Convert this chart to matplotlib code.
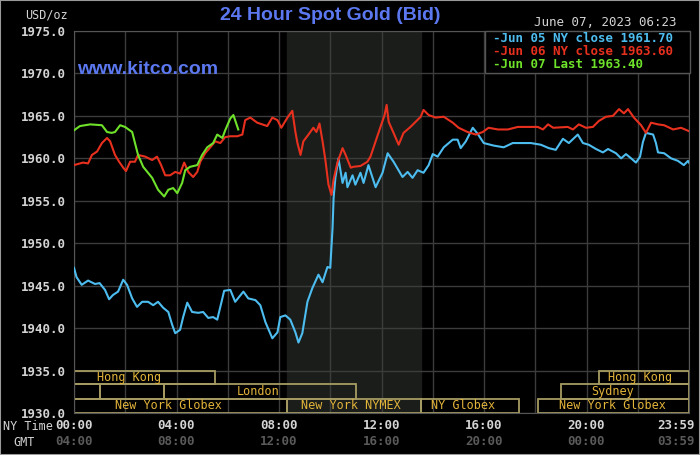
import matplotlib
matplotlib.use('Agg')
import matplotlib.pyplot as plt
from matplotlib.patches import Rectangle

# --- data ---
jun05_h = [0, 0.1, 0.3, 0.55, 0.82, 1.0, 1.21, 1.37, 1.52, 1.72, 1.92, 2.07, 2.27, 2.46, 2.66, 2.89,
           3.09, 3.28, 3.48, 3.68, 3.83, 3.95, 4.14, 4.26, 4.42, 4.61, 4.85, 5.04, 5.24, 5.43, 5.59,
           5.75, 5.86, 6.1, 6.29, 6.61, 6.8, 7.08, 7.27, 7.47, 7.74, 7.94, 8.05, 8.25, 8.44, 8.64,
           8.76, 8.91, 9.11, 9.3, 9.54, 9.7, 9.89, 10.0, 10.09, 10.13, 10.2, 10.32, 10.48, 10.6,
           10.67, 10.87, 10.98, 11.18, 11.3, 11.49, 11.77, 12.04, 12.24, 12.47, 12.82, 13.02, 13.21,
           13.41, 13.64, 13.84, 14.0, 14.19, 14.43, 14.78, 14.97, 15.09, 15.29, 15.56, 15.75, 15.99,
           16.38, 16.77, 17.12, 17.83, 18.22, 18.53, 18.8, 19.08, 19.31, 19.66, 19.86, 20.09, 20.37,
           20.64, 20.84, 21.15, 21.35, 21.54, 21.74, 21.93, 22.09, 22.2, 22.32, 22.6, 22.71, 22.79,
           23.03, 23.3, 23.57, 23.8, 23.96, 24.0]
jun05_v = [1947.1, 1946.0, 1945.1, 1945.6, 1945.2, 1945.3, 1944.5, 1943.4, 1943.9, 1944.3, 1945.7,
           1945.1, 1943.5, 1942.5, 1943.1, 1943.1, 1942.7, 1943.1, 1942.4, 1941.9, 1940.4, 1939.4,
           1939.8, 1941.3, 1943.0, 1941.9, 1941.8, 1941.9, 1941.2, 1941.3, 1941.0, 1943.0, 1944.4,
           1944.5, 1943.1, 1944.3, 1943.5, 1943.3, 1942.7, 1940.7, 1938.8, 1939.5, 1941.3, 1941.5,
           1941.0, 1939.5, 1938.3, 1939.4, 1943.1, 1944.7, 1946.3, 1945.4, 1947.2, 1947.1, 1951.8,
           1955.3, 1957.7, 1960.0, 1957.1, 1958.3, 1956.6, 1958.0, 1956.9, 1958.3, 1957.1, 1959.2,
           1956.6, 1958.3, 1960.6, 1959.6, 1957.8, 1958.4, 1957.7, 1958.6, 1958.3, 1959.2, 1960.5,
           1960.2, 1961.3, 1962.2, 1962.2, 1961.2, 1962.0, 1963.6, 1962.9, 1961.8, 1961.5, 1961.3,
           1961.8, 1961.8, 1961.6, 1961.2, 1961.0, 1962.3, 1961.8, 1962.8, 1961.8, 1961.6, 1961.1,
           1960.7, 1961.1, 1960.6, 1960.0, 1960.5, 1960.0, 1959.5, 1960.2, 1961.9, 1963.0, 1962.8,
           1961.8, 1960.7, 1960.6, 1960.0, 1959.7, 1959.2, 1959.7, 1959.5]

jun06_h = [0, 0.35, 0.55, 0.7, 0.9, 1.09, 1.29, 1.41, 1.6, 1.76, 1.92, 2.03, 2.19, 2.38, 2.5, 2.78,
           3.05, 3.24, 3.4, 3.56, 3.75, 3.95, 4.14, 4.3, 4.46, 4.65, 4.81, 4.93, 5.12, 5.32, 5.51,
           5.71, 5.9, 6.1, 6.37, 6.57, 6.68, 6.88, 7.15, 7.54, 7.74, 7.94, 8.09, 8.33, 8.52, 8.64,
           8.72, 8.84, 8.95, 9.15, 9.34, 9.46, 9.58, 9.7, 9.81, 9.93, 10.05, 10.13, 10.28, 10.48,
           10.6, 10.8, 10.9, 11.18, 11.45, 11.57, 11.77, 11.96, 12.12, 12.2, 12.28, 12.47, 12.67,
           12.86, 13.13, 13.33, 13.53, 13.64, 13.84, 14.11, 14.43, 14.78, 15.01, 15.36, 15.68, 15.95,
           16.18, 16.54, 16.93, 17.32, 18.1, 18.3, 18.5, 18.7, 19.27, 19.47, 19.7, 19.98, 20.25,
           20.48, 20.76, 21.03, 21.27, 21.46, 21.62, 21.85, 22.13, 22.32, 22.52, 22.79, 23.03, 23.38,
           23.69, 24.0]
jun06_v = [1959.2, 1959.5, 1959.4, 1960.4, 1960.8, 1961.8, 1962.4, 1962.0, 1960.4, 1959.6, 1958.9,
           1958.5, 1959.6, 1959.6, 1960.4, 1960.2, 1959.8, 1960.2, 1959.2, 1958.0, 1958.0, 1958.4,
           1958.2, 1959.5, 1958.4, 1957.8, 1958.4, 1959.6, 1960.6, 1961.3, 1962.0, 1961.8, 1962.5,
           1962.6, 1962.6, 1962.8, 1964.5, 1964.8, 1964.2, 1963.8, 1964.8, 1964.5, 1963.6, 1964.8,
           1965.6, 1963.1, 1961.8, 1960.4, 1962.0, 1962.8, 1963.6, 1963.1, 1964.1, 1962.0, 1959.8,
           1956.9, 1955.7, 1957.5, 1959.5, 1961.2, 1960.4, 1958.9, 1959.0, 1959.1, 1959.6, 1960.2,
           1962.0, 1963.7, 1965.1, 1966.3, 1964.3, 1963.0, 1961.6, 1963.0, 1963.7, 1964.3, 1964.9,
           1965.7, 1965.1, 1964.8, 1964.9, 1964.2, 1963.6, 1963.1, 1962.8, 1963.1, 1963.6, 1963.4,
           1963.4, 1963.7, 1963.7, 1963.4, 1964.0, 1963.6, 1963.7, 1963.4, 1964.0, 1963.6, 1963.7,
           1964.4, 1964.9, 1965.0, 1965.8, 1965.3, 1965.8, 1964.8, 1963.9, 1963.0, 1964.2, 1964.0,
           1963.9, 1963.4, 1963.6, 1963.2]

jun07_h = [0, 0.23, 0.63, 1.09, 1.29, 1.47, 1.6, 1.8, 1.99, 2.27, 2.38, 2.5, 2.7, 3.05, 3.28, 3.52,
           3.68, 3.87, 4.03, 4.22, 4.34, 4.53, 4.81, 5.0, 5.2, 5.43, 5.59, 5.79, 5.9, 6.1, 6.22, 6.41]
jun07_v = [1963.3, 1963.8, 1964.0, 1963.9, 1963.1, 1963.0, 1963.1, 1963.9, 1963.7, 1963.1, 1961.8,
           1960.4, 1959.0, 1957.7, 1956.3, 1955.5, 1956.3, 1956.5, 1955.9, 1957.1, 1958.6, 1959.0,
           1959.2, 1960.4, 1961.3, 1961.8, 1962.8, 1962.4, 1963.3, 1964.7, 1965.1, 1963.4]

legend_labels = ['Jun 05 NY close 1961.70', 'Jun 06 NY close 1963.60', 'Jun 07 Last 1963.40']
y_ticks = [1930 + 5 * i for i in range(10)]
ny_labels = ['00:00', '04:00', '08:00', '12:00', '16:00', '20:00', '23:59']
gmt_labels = ['04:00', '08:00', '12:00', '16:00', '20:00', '00:00', '03:59']
label_hours = [0, 4, 8, 12, 16, 20, 23.5]

# market sessions: (row, start, end, label, label position)
sessions = [
    (2, 0, 5.5, 'Hong Kong', 2.15), (2, 20.5, 24, 'Hong Kong', 22.1),
    (1, 0, 1.0, '', 0), (1, 1.0, 3.5, '', 0), (1, 3.5, 11.0, 'London', 7.2),
    (1, 19.0, 24, 'Sydney', 21.0),
    (0, 0, 8.3, 'New York Globex', 3.7), (0, 8.3, 13.55, 'New York NYMEX', 10.8),
    (0, 13.55, 17.35, 'NY Globex', 15.2), (0, 18.1, 24, 'New York Globex', 21.0),
]
row_edges = [1930.0, 1931.65, 1933.4, 1934.95]
pit_start, pit_end = 8.3, 13.55

c_blue = '#4dbdf0'
c_red = '#e8301e'
c_green = '#6ee22a'
c_title = '#5b78f0'
c_text = '#d4d4d4'
c_grid = '#3c3c3c'
c_sess_edge = '#a69c62'
c_sess_text = '#e3b43a'
mono = 'DejaVu Sans Mono'

fig = plt.figure(figsize=(7, 4.55), dpi=100, facecolor='black')
fig.patches.append(Rectangle((0, 0), 1, 1, transform=fig.transFigure, fill=False,
                             edgecolor='#9a9a9a', lw=1.5))
ax = fig.add_axes([74 / 700, 42 / 455, 615 / 700, 382 / 455])
ax.set_facecolor('black')
ax.set_xlim(0, 24)
ax.set_ylim(1930, 1975)

ax.axvspan(pit_start, pit_end, color='#1a1d1a', zorder=0)
ax.set_xticks(range(0, 25, 2))
ax.set_yticks(y_ticks)
ax.grid(True, color=c_grid, lw=1)
ax.set_axisbelow(True)
ax.tick_params(axis='x', length=0, labelbottom=False)
ax.tick_params(axis='y', length=0, pad=6, labelcolor=c_text, labelsize=9)
ax.set_yticklabels([f'{v:.1f}' for v in y_ticks], family=mono, weight='bold')
for s in ax.spines.values():
    s.set_color('#555555')

# sessions
for row, a, b, lab, lx in sessions:
    y0, y1 = row_edges[row], row_edges[row + 1]
    ax.add_patch(Rectangle((a, y0), b - a, y1 - y0, fill=False, edgecolor=c_sess_edge,
                           lw=1.3, zorder=2))
    if lab:
        ax.text(lx, (y0 + y1) / 2, lab, color=c_sess_text, family=mono, fontsize=8.5,
                ha='center', va='center', zorder=3)

ax.plot(jun05_h, jun05_v, color=c_blue, lw=1.5, zorder=4)
ax.plot(jun06_h, jun06_v, color=c_red, lw=1.5, zorder=5)
ax.plot(jun07_h, jun07_v, color=c_green, lw=1.5, zorder=6)

# time axis labels
tr = ax.get_xaxis_transform()
for h, ny, gmt in zip(label_hours, ny_labels, gmt_labels):
    ax.text(h, -0.033, ny, transform=tr, ha='center', va='center', color=c_text,
            family=mono, weight='bold', fontsize=9, clip_on=False)
    ax.text(h, -0.075, gmt, transform=tr, ha='center', va='center', color='#5a5a5a',
            family=mono, weight='bold', fontsize=9, clip_on=False)
fig.text(3 / 700, 1 - 426 / 455, 'NY Time', color=c_text, family=mono, fontsize=8.5,
         va='center', ha='left')
fig.text(13 / 700, 1 - 442 / 455, 'GMT', color=c_text, family=mono, fontsize=8.5,
         va='center', ha='left')

# header texts
fig.text(330 / 700, 1 - 15 / 455, '24 Hour Spot Gold (Bid)', color=c_title, fontsize=14,
         family='Liberation Sans', weight='bold', ha='center', va='center')
fig.text(68 / 700, 1 - 15 / 455, 'USD/oz', color=c_text, family=mono, fontsize=8.5,
         ha='right', va='center')
fig.text(677 / 700, 1 - 22 / 455, 'June 07, 2023 06:23', color=c_text, family=mono,
         fontsize=9, ha='right', va='center')
ax.text(0.005, 0.9, 'www.kitco.com', transform=ax.transAxes, color=c_title, fontsize=14,
        family='Liberation Sans', weight='bold', ha='left', va='center')

# legend box
lx0, ly0, lx1, ly1 = 485 / 700, 1 - 73 / 455, 690 / 700, 1 - 31 / 455
fig.patches.append(Rectangle((lx0, ly0), lx1 - lx0, ly1 - ly0, transform=fig.transFigure,
                             facecolor='black', edgecolor='#555555', lw=1, zorder=10))
for i, (lab, col) in enumerate(zip(legend_labels, [c_blue, c_red, c_green])):
    fig.text(493 / 700, 1 - (38 + 13.5 * i) / 455, '-' + lab, color=col, family=mono,
             weight='bold', fontsize=9, ha='left', va='center', zorder=11)

fig.savefig('out.png', dpi=100, facecolor='black')
